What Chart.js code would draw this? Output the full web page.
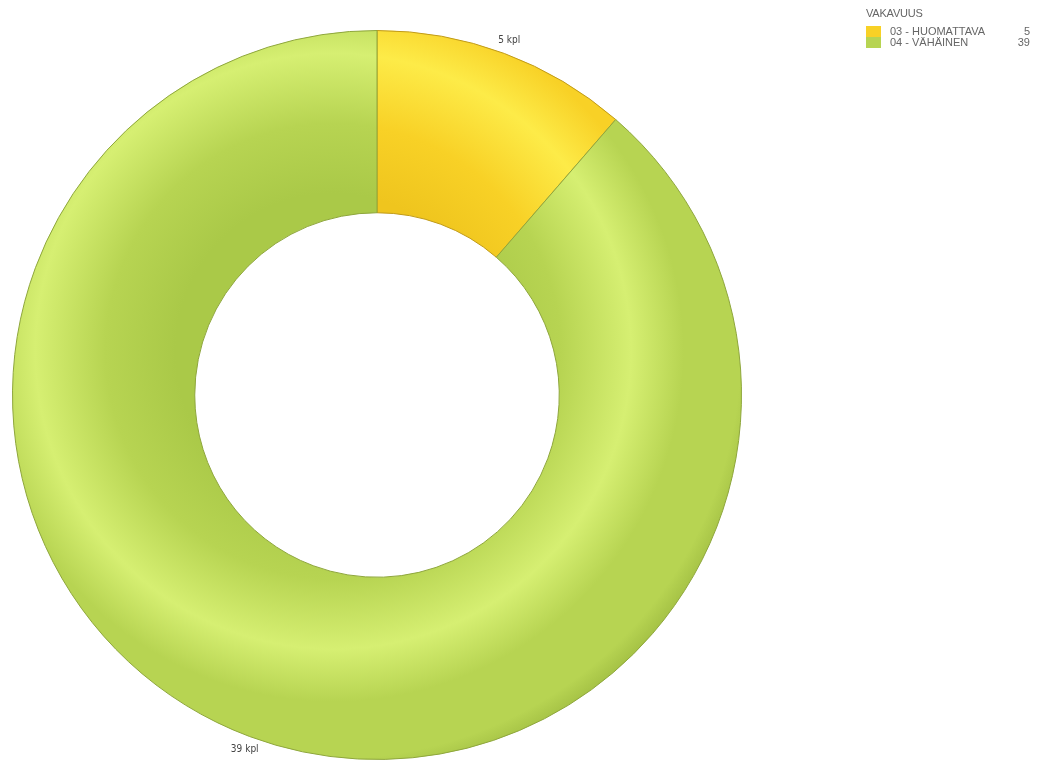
<!DOCTYPE html>
<html>
<head>
    <title>Vakavuus</title>
    <script src="https://cdn.jsdelivr.net/npm/chart.js"></script>
    <style>
        body { margin: 0; background: #fff; }
        #wrap { position: relative; width: 1043px; height: 762px; }
        #legend { position: absolute; left: 866px; top: 7px; font-family: "Liberation Sans", Arial, sans-serif; font-size: 11px; color: #666; }
        #legend .title { margin-bottom: 7px; letter-spacing: -0.2px; }
        #legend .row { position: relative; height: 11px; line-height: 11px; width: 164px; }
        #legend .sw { position: absolute; left: 0; top: 0; width: 15px; height: 11px; }
        #legend .lbl { position: absolute; left: 24px; top: 0; }
        #legend .val { position: absolute; right: 0; top: 0; }
    </style>
</head>
<body>
<div id="wrap">
    <canvas id="pie" width="1043" height="762"></canvas>
    <div id="legend"></div>
</div>
<script>
    const categories = ['03 - HUOMATTAVA', '04 - VÄHÄINEN'];
    const counts = [5, 39];
    const legendTitle = 'VAKAVUUS';
    const unit = 'kpl';

    // shades: [dark, mid-dark, base, light]
    const shades = [
        ['#dcaf14', '#efc51e', '#f8d126', '#fdeb48'],
        ['#9bb83e', '#aac948', '#b7d452', '#d6ef72']
    ];
    const edges = ['#c09a18', '#8ea63c'];

    function torusFill(ctx) {
        const chart = ctx.chart;
        const a = chart.chartArea;
        if (!a) return shades[ctx.dataIndex][2];
        const cx = (a.left + a.right) / 2, cy = (a.top + a.bottom) / 2;
        const R = Math.min(a.right - a.left, a.bottom - a.top) / 2;
        const s = shades[ctx.dataIndex];
        const gx = cx - R * 0.12, gy = cy - R * 0.12;
        const g = chart.ctx.createRadialGradient(gx, gy, 0, gx, gy, R * 1.2);
        g.addColorStop(0.0, s[1]);
        g.addColorStop(0.36, s[1]);
        g.addColorStop(0.52, s[2]);
        g.addColorStop(0.68, s[3]);
        g.addColorStop(0.8, s[2]);
        g.addColorStop(0.93, s[2]);
        g.addColorStop(1.0, s[0]);
        return g;
    }

    const outsideLabels = {
        id: 'outsideLabels',
        afterDatasetsDraw(chart) {
            const c = chart.ctx;
            const meta = chart.getDatasetMeta(0);
            c.save();
            c.font = '10px "DejaVu Sans Condensed", "Liberation Sans", sans-serif';
            c.fillStyle = '#444';
            c.textAlign = 'center';
            c.textBaseline = 'middle';
            meta.data.forEach((arc, i) => {
                const p = arc.getProps(['x', 'y', 'startAngle', 'endAngle', 'outerRadius']);
                const mid = (p.startAngle + p.endAngle) / 2;
                const r = p.outerRadius + 14;
                c.fillText(counts[i] + ' ' + unit, p.x + Math.cos(mid) * r, p.y + Math.sin(mid) * r);
            });
            c.restore();
        }
    };

    new Chart(document.getElementById('pie'), {
        type: 'doughnut',
        data: {
            labels: categories,
            datasets: [{
                data: counts,
                backgroundColor: torusFill,
                borderColor: edges,
                borderWidth: 1
            }]
        },
        options: {
            responsive: false,
            animation: false,
            cutout: '50%',
            layout: { padding: { left: 12, right: 301, top: 30, bottom: 2 } },
            plugins: { legend: { display: false }, tooltip: { enabled: false } }
        },
        plugins: [outsideLabels]
    });

    // legend
    const lg = document.getElementById('legend');
    let html = '<div class="title">' + legendTitle + '</div>';
    categories.forEach((name, i) => {
        html += '<div class="row"><span class="sw" style="background:' + shades[i][2] + '"></span>' +
            '<span class="lbl">' + name + '</span><span class="val">' + counts[i] + '</span></div>';
    });
    lg.innerHTML = html;
</script>
</body>
</html>
